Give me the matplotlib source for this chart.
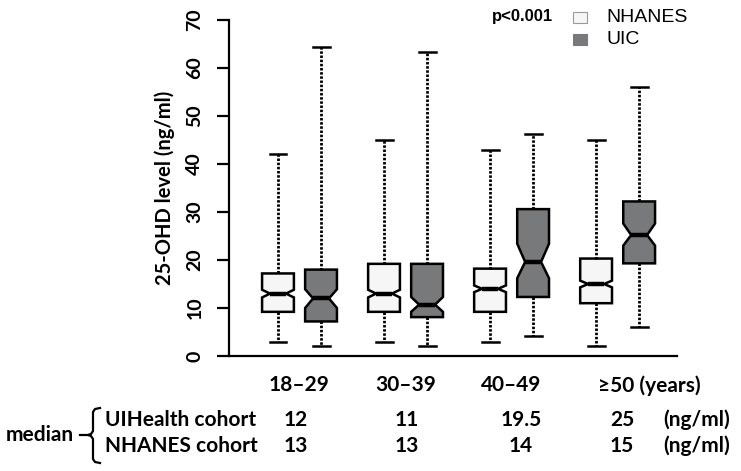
import numpy as np
import matplotlib
matplotlib.use('Agg')
import matplotlib.pyplot as plt
from matplotlib.patches import Rectangle
from matplotlib.lines import Line2D
import matplotlib.transforms as mtransforms

# data (ng/ml)
groups = ['18\u201329', '30\u201339', '40\u201349', '\u226550 (years)']
nhanes_low = [3, 3, 3, 2]
nhanes_q1 = [9.2, 9.2, 9.2, 11]
nhanes_med = [13, 13, 14, 15]
nhanes_q3 = [17.2, 19.2, 18.2, 20.3]
nhanes_high = [42, 45, 43, 45]
nhanes_cilo = [12.2, 12.2, 13.3, 14.3]
nhanes_cihi = [13.8, 13.8, 14.7, 15.7]

uic_low = [2, 2, 4.2, 6]
uic_q1 = [7.2, 8.1, 12.3, 19.3]
uic_med = [12, 10.7, 19.6, 25.2]
uic_q3 = [18, 19.2, 30.6, 32.2]
uic_high = [64.3, 63.3, 46.2, 56]
uic_cilo = [10, 9.2, 16.2, 23]
uic_cihi = [13.9, 12.3, 23.4, 27.6]

median_uic_txt = ['12', '11', '19.5', '25']
median_nhanes_txt = ['13', '13', '14', '15']

W, H = 741, 471
fig = plt.figure(figsize=(W / 100, H / 100), dpi=100)
ax = fig.add_axes([229 / W, 1 - 356 / H, (677 - 229) / W, (356 - 20) / H])

def stats(low, q1, med, q3, high, cilo, cihi):
    out = []
    for i in range(len(med)):
        out.append(dict(whislo=low[i], q1=q1[i], med=med[i], q3=q3[i], whishi=high[i],
                        cilo=cilo[i], cihi=cihi[i], fliers=[]))
    return out

x = np.arange(1, len(groups) + 1)
off = 0.203

for st, pos, fc in [(stats(nhanes_low, nhanes_q1, nhanes_med, nhanes_q3, nhanes_high, nhanes_cilo, nhanes_cihi), x - off, '#f6f6f6'),
                    (stats(uic_low, uic_q1, uic_med, uic_q3, uic_high, uic_cilo, uic_cihi), x + off, '#78797a')]:
    ax.bxp(st, positions=pos, widths=0.30, capwidths=0.16, shownotches=True, patch_artist=True,
           boxprops=dict(facecolor=fc, edgecolor='black', linewidth=1.8),
           medianprops=dict(color='black', linewidth=3.2, solid_capstyle='butt'),
           whiskerprops=dict(color='black', linewidth=2.0, linestyle=(0, (0.9, 0.6))),
           capprops=dict(color='black', linewidth=1.8),
           showfliers=False, manage_ticks=False)

ax.set_xlim(0.335, 4.56)
ax.set_ylim(0, 70)
ax.spines['top'].set_visible(False)
ax.spines['right'].set_visible(False)
ax.spines['left'].set_linewidth(1.6)
ax.spines['bottom'].set_linewidth(1.6)

bold = dict(family='Lato', weight='bold')
ax.set_yticks(np.arange(0, 71, 10))
ax.set_yticklabels([str(v) for v in range(0, 71, 10)], rotation=90, va='center', fontsize=14, **bold)
ax.tick_params(axis='y', length=8.5, width=1.6, pad=10)
ax.set_ylabel('25-OHD level (ng/ml)', fontsize=14.5, labelpad=8, **bold)

ax.set_xticks(x)
ax.set_xticklabels(groups, fontsize=15, **bold)
ax.tick_params(axis='x', length=0, pad=14)
last = ax.get_xticklabels()[-1]
last.set_ha('left')
last.set_transform(last.get_transform() + mtransforms.ScaledTranslation(-20 / 100, 0, fig.dpi_scale_trans))

# legend
fig.text(492 / W, 1 - 17 / H, 'p<0.001', fontsize=12, weight='bold', family='Liberation Sans', va='center')
for yy, fc, lab in [(17, '#f6f6f6', 'NHANES'), (39, '#78797a', 'UIC')]:
    fig.add_artist(Rectangle((573 / W, 1 - (yy + 5.5) / H), 14 / W, 11 / H, transform=fig.transFigure,
                             facecolor=fc, edgecolor='#9a9a9a' if fc == '#f6f6f6' else fc, linewidth=0.8))
    fig.text(606 / W, 1 - yy / H, lab, fontsize=14, family='Liberation Sans', va='center')

# median table
col_x = [296, 407, 521, 622]
fig.text(6 / W, 1 - 435 / H, 'median', fontsize=15, va='center', **bold)
for yy, lab, vals in [(420, 'UIHealth cohort', median_uic_txt), (446, 'NHANES cohort', median_nhanes_txt)]:
    fig.text(105 / W, 1 - yy / H, lab, fontsize=15, va='center', **bold)
    for cx, v in zip(col_x, vals):
        fig.text(cx / W, 1 - yy / H, v, fontsize=15, va='center', ha='center', **bold)
    fig.text(697 / W, 1 - yy / H, '(ng/ml)', fontsize=15, va='center', ha='center', **bold)

# brace
bx = [100, 95, 93, 93, 91, 88, 91, 93, 93, 95, 100]
by = [408, 409, 412, 431, 434, 435, 436, 439, 459, 462, 463]
fig.add_artist(Line2D([v / W for v in bx], [1 - v / H for v in by], transform=fig.transFigure,
                      color='black', linewidth=1.6))
fig.add_artist(Line2D([80 / W, 88 / W], [1 - 435 / H, 1 - 435 / H], transform=fig.transFigure,
                      color='black', linewidth=1.6))

fig.savefig('out.png', dpi=100)
